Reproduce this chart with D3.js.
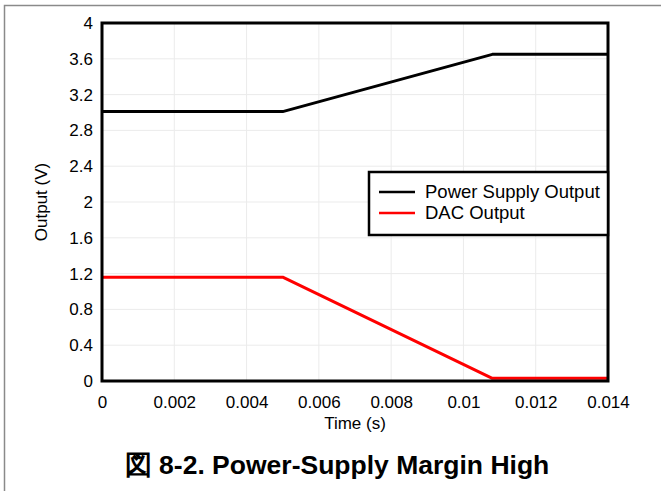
<!DOCTYPE html>
<html>
<head>
<meta charset="utf-8">
<script src="https://cdn.jsdelivr.net/npm/d3@7"></script>
<style>
  body { margin: 0; background: #fff; }
  svg { display: block; font-family: Arial, "Liberation Sans", sans-serif; }
</style>
</head>
<body>
<svg id="chart"></svg>
<script>
// data (time in s, output in V)
const psTime = [0, 0.005, 0.0108, 0.014];
const psVolt = [3.01, 3.01, 3.65, 3.65];
const dacTime = [0, 0.005, 0.0108, 0.014];
const dacVolt = [1.16, 1.16, 0.03, 0.03];

const xTicks = [0, 0.002, 0.004, 0.006, 0.008, 0.01, 0.012, 0.014];
const yTicks = [0, 0.4, 0.8, 1.2, 1.6, 2, 2.4, 2.8, 3.2, 3.6, 4];

const seriesNames = ["Power Supply Output", "DAC Output"];
const seriesColors = ["#000000", "#ff0000"];

const W = 661, H = 491;
const margin = { top: 23, right: 53, bottom: 110, left: 102 },
    width = W - margin.left - margin.right,
    height = H - margin.top - margin.bottom;

const svg = d3.select("#chart").attr("width", W).attr("height", H);

// outer figure frame (only top and left visible)
svg.append("path")
    .attr("d", `M4.5,${H} V5.5 H${W}`)
    .attr("fill", "none")
    .attr("stroke", "#8a8a8a")
    .attr("stroke-width", 1.5);

const g = svg.append("g")
    .attr("transform", `translate(${margin.left},${margin.top})`);

const x = d3.scaleLinear().domain([0, 0.014]).range([0, width]);
const y = d3.scaleLinear().domain([0, 4]).range([height, 0]);

// grid
g.append("g")
    .selectAll("line")
    .data(xTicks)
    .join("line")
    .attr("x1", d => x(d)).attr("x2", d => x(d))
    .attr("y1", 0).attr("y2", height)
    .attr("stroke", "#ebebeb").attr("stroke-width", 1);

g.append("g")
    .selectAll("line")
    .data(yTicks)
    .join("line")
    .attr("x1", 0).attr("x2", width)
    .attr("y1", d => y(d)).attr("y2", d => y(d))
    .attr("stroke", "#ebebeb").attr("stroke-width", 1);

// axes
const xAxis = g.append("g")
    .attr("transform", `translate(0,${height})`)
    .call(d3.axisBottom(x).tickValues(xTicks).tickSize(0).tickPadding(15).tickFormat(d => String(+d.toFixed(3))));
xAxis.select(".domain").remove();
xAxis.selectAll("text").attr("font-size", 17).attr("fill", "#000").attr("font-family", "Arial, 'Liberation Sans', sans-serif");

const yAxis = g.append("g")
    .call(d3.axisLeft(y).tickValues(yTicks).tickSize(0).tickPadding(9).tickFormat(d => String(+d.toFixed(1))));
yAxis.select(".domain").remove();
yAxis.selectAll("text").attr("font-size", 17).attr("fill", "#000").attr("font-family", "Arial, 'Liberation Sans', sans-serif");

// lines
const line = d3.line().x(d => x(d[0])).y(d => y(d[1]));
const series = [
    d3.zip(psTime, psVolt),
    d3.zip(dacTime, dacVolt)
];

g.selectAll("path.series")
    .data(series)
    .join("path")
    .attr("class", "series")
    .attr("d", line)
    .attr("fill", "none")
    .attr("stroke", (d, i) => seriesColors[i])
    .attr("stroke-width", 3)
    .attr("stroke-linejoin", "round");

// plot frame
g.append("rect")
    .attr("x", 0).attr("y", 0)
    .attr("width", width).attr("height", height)
    .attr("fill", "none")
    .attr("stroke", "#000")
    .attr("stroke-width", 3);

// legend
const legend = g.append("g")
    .attr("transform", `translate(${width - 239},${149})`);
legend.append("rect")
    .attr("width", 239).attr("height", 63)
    .attr("fill", "#fff")
    .attr("stroke", "#000")
    .attr("stroke-width", 2.5);
const items = legend.selectAll("g.item")
    .data(seriesNames)
    .join("g")
    .attr("transform", (d, i) => `translate(0,${20 + i * 21})`);
items.append("line")
    .attr("x1", 10).attr("x2", 46)
    .attr("stroke", (d, i) => seriesColors[i])
    .attr("stroke-width", 2.5);
items.append("text")
    .attr("x", 56).attr("dy", "0.35em")
    .attr("font-size", 18.5)
    .text(d => d);

// axis titles
g.append("text")
    .attr("x", width / 2).attr("y", height + 48)
    .attr("text-anchor", "middle")
    .attr("font-size", 17)
    .text("Time (s)");

g.append("text")
    .attr("transform", `translate(${-55},${height / 2}) rotate(-90)`)
    .attr("text-anchor", "middle")
    .attr("font-size", 17)
    .text("Output (V)");

// caption
svg.append("text")
    .attr("x", 337).attr("y", 474)
    .attr("text-anchor", "middle")
    .attr("font-size", 26.5)
    .attr("font-weight", "bold")
    .text("図 8-2. Power-Supply Margin High");
</script>
</body>
</html>
